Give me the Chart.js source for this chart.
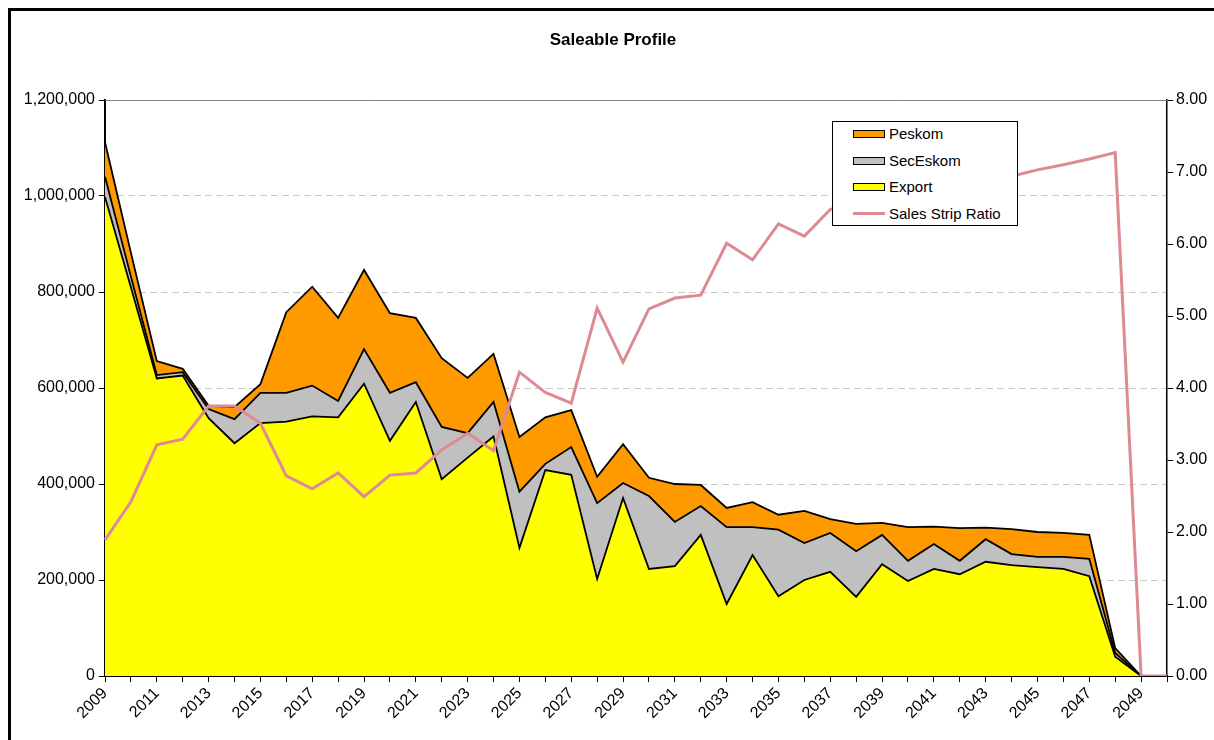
<!DOCTYPE html>
<html>
<head>
<meta charset="utf-8">
<script src="https://cdn.jsdelivr.net/npm/chart.js@4.4.1/dist/chart.umd.min.js"></script>
<style>
  html, body { margin: 0; padding: 0; background: #fff; }
  #wrap { position: relative; width: 1214px; height: 740px; overflow: hidden; background: #fff; }
  #frame { position: absolute; left: 8px; top: 8px; width: 1300px; height: 900px; border: 3px solid #000; box-sizing: border-box; }
  #c { position: absolute; left: 0; top: 0; }
  #title { position: absolute; left: 6px; top: 30px; width: 1214px; text-align: center;
           font: bold 17px "Liberation Sans", Arial, sans-serif; color: #000; }
  #legend { position: absolute; left: 832px; top: 121px; width: 186px; height: 105px;
            border: 1px solid #000; background: #fff; box-sizing: border-box;
            font: 15px "Liberation Sans", Arial, sans-serif; color: #000; }
  .item { position: absolute; left: 0; height: 20px; width: 186px; }
  .sw { position: absolute; left: 20px; top: 6px; width: 32px; height: 8px; border: 1.5px solid #000; box-sizing: border-box; }
  .ln { position: absolute; left: 20px; top: 8px; width: 32px; height: 3px; }
  .tx { position: absolute; left: 56px; top: 0px; line-height: 20px; white-space: nowrap; }
</style>
</head>
<body>
<div id="wrap">
  <div id="frame"></div>
  <canvas id="c" width="1214" height="740"></canvas>
  <div id="title">Saleable Profile</div>
  <div id="legend"></div>
</div>
<script>
const years = ['2009','2010','2011','2012','2013','2014','2015','2016','2017','2018',
               '2019','2020','2021','2022','2023','2024','2025','2026','2027','2028',
               '2029','2030','2031','2032','2033','2034','2035','2036','2037','2038',
               '2039','2040','2041','2042','2043','2044','2045','2046','2047','2048',
               '2049','2050'];

const exportVals = [998000, 810000, 620000, 626000, 537000, 485000, 527000, 530000, 541000, 539000,
                    609000, 490000, 571000, 410000, 455000, 499000, 267000, 429000, 419000, 202000,
                    371000, 223000, 229000, 294000, 150000, 252000, 166000, 200000, 217000, 165000,
                    233000, 198000, 223000, 212000, 238000, 231000, 227000, 223000, 208000, 40000,
                    0, 0];

const secEskomVals = [42000, 22000, 7000, 7000, 19000, 50000, 63000, 60000, 64000, 34000,
                      72000, 100000, 41000, 109000, 51000, 72000, 117000, 13000, 58000, 158000,
                      31000, 152000, 92000, 60000, 160000, 58000, 139000, 77000, 81000, 95000,
                      61000, 42000, 52000, 28000, 47000, 23000, 21000, 25000, 36000, 8000,
                      0, 0];

const peskomVals = [72000, 50000, 29000, 7000, 7000, 25000, 18000, 168000, 206000, 173000,
                    165000, 166000, 134000, 143000, 115000, 100000, 114000, 97000, 77000, 55000,
                    81000, 38000, 79000, 44000, 40000, 52000, 31000, 67000, 29000, 57000,
                    25000, 70000, 36000, 68000, 24000, 52000, 52000, 50000, 50000, 10000,
                    0, 0];

const salesStripRatio = [1.89, 2.42, 3.21, 3.29, 3.75, 3.75, 3.51, 2.78, 2.60, 2.82,
                         2.49, 2.79, 2.82, 3.14, 3.37, 3.13, 4.22, 3.94, 3.79, 5.11,
                         4.36, 5.10, 5.25, 5.29, 6.01, 5.78, 6.28, 6.11, 6.48, 6.60,
                         6.70, 6.74, 6.80, 6.85, 6.89, 6.94, 7.03, 7.10, 7.18, 7.27,
                         0, 0];

const seriesNames = ['Peskom', 'SecEskom', 'Export', 'Sales Strip Ratio'];

const COL_PESKOM = '#FF9900';
const COL_SEC = '#C0C0C0';
const COL_EXPORT = '#FFFF00';
const COL_RATIO = '#de8a93';
const FONT = '"Liberation Sans", Arial, sans-serif';

const topBorder = {
  id: 'topBorder',
  afterDraw(chart) {
    const a = chart.chartArea, ctx = chart.ctx;
    ctx.save();
    ctx.strokeStyle = '#808080';
    ctx.lineWidth = 1;
    ctx.beginPath();
    ctx.moveTo(a.left, a.top + 0.5);
    ctx.lineTo(a.right, a.top + 0.5);
    ctx.stroke();
    ctx.restore();
  }
};

const areaCommon = {
  type: 'line',
  yAxisID: 'y',
  borderColor: '#000',
  borderWidth: 1.8,
  pointRadius: 0,
  tension: 0
};

new Chart(document.getElementById('c'), {
  type: 'line',
  data: {
    labels: years,
    datasets: [
      { type: 'line', label: seriesNames[3], data: salesStripRatio, yAxisID: 'y2',
        borderColor: COL_RATIO, borderWidth: 3, pointRadius: 0, tension: 0, fill: false },
      Object.assign({}, areaCommon, { label: seriesNames[2], data: exportVals, backgroundColor: COL_EXPORT, fill: 'origin' }),
      Object.assign({}, areaCommon, { label: seriesNames[1], data: secEskomVals, backgroundColor: COL_SEC, fill: '-1' }),
      Object.assign({}, areaCommon, { label: seriesNames[0], data: peskomVals, backgroundColor: COL_PESKOM, fill: '-1' })
    ]
  },
  options: {
    responsive: false,
    animation: false,
    layout: { padding: { top: 100, left: 0, right: 0, bottom: 0 } },
    plugins: { legend: { display: false }, tooltip: { enabled: false }, title: { display: false } },
    scales: {
      x: {
        type: 'category',
        offset: false,
        grid: { display: true, drawOnChartArea: false, drawTicks: true, tickLength: 6, tickColor: '#000', tickWidth: 1 },
        border: { display: true, color: '#000', width: 2 },
        ticks: {
          autoSkip: false, maxRotation: 45, minRotation: 45, padding: 2,
          color: '#000', font: { family: FONT, size: 16 },
          callback: function(v, i) { return i % 2 === 0 ? this.getLabelForValue(v) : ''; }
        },
        afterFit(s) { s.height = 64; }
      },
      y: {
        type: 'linear', position: 'left', stacked: true,
        min: 0, max: 1200000,
        grid: {
          drawOnChartArea: true, drawTicks: true, tickLength: 6, tickColor: '#000', tickWidth: 1,
          tickBorderDash: [],
          color: (ctx) => (ctx.tick && (ctx.tick.value === 0 || ctx.tick.value === 1200000)) ? 'rgba(0,0,0,0)' : '#c8c8c8',
          lineWidth: 1
        },
        border: { display: true, color: '#000', width: 2, dash: [7, 4] },
        ticks: {
          stepSize: 200000, color: '#000', font: { family: FONT, size: 16 }, padding: 4,
          callback: (v) => Number(v).toLocaleString('en-US')
        },
        afterFit(s) { s.width = 105; }
      },
      y2: {
        type: 'linear', position: 'right',
        min: 0, max: 8,
        grid: { drawOnChartArea: false, drawTicks: true, tickLength: 6, tickColor: '#000', tickWidth: 1, tickBorderDash: [] },
        border: { display: true, color: '#000', width: 1.5 },
        ticks: {
          stepSize: 1, color: '#000', font: { family: FONT, size: 16 }, padding: 3,
          callback: (v) => Number(v).toFixed(2)
        },
        afterFit(s) { s.width = 47; }
      }
    }
  },
  plugins: [topBorder]
});

// HTML legend built from series names
const legendColors = [
  { kind: 'box', color: COL_PESKOM },
  { kind: 'box', color: COL_SEC },
  { kind: 'box', color: COL_EXPORT },
  { kind: 'line', color: COL_RATIO }
];
const rowTops = [2, 29, 55, 82];
const lg = document.getElementById('legend');
seriesNames.forEach((name, i) => {
  const it = document.createElement('div');
  it.className = 'item';
  it.style.top = rowTops[i] + 'px';
  const sw = document.createElement('div');
  if (legendColors[i].kind === 'box') {
    sw.className = 'sw';
    sw.style.background = legendColors[i].color;
  } else {
    sw.className = 'ln';
    sw.style.background = legendColors[i].color;
  }
  const tx = document.createElement('div');
  tx.className = 'tx';
  tx.textContent = name;
  it.appendChild(sw);
  it.appendChild(tx);
  lg.appendChild(it);
});
</script>
</body>
</html>
